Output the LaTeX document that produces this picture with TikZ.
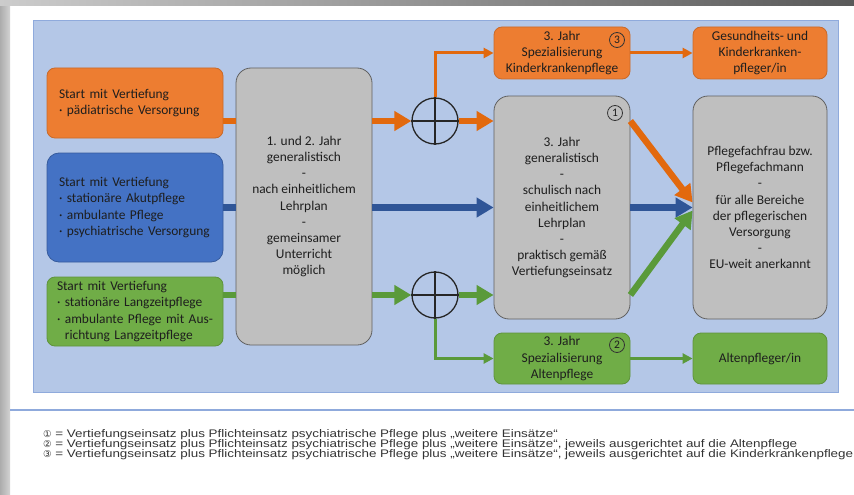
\documentclass[tikz,border=0pt]{standalone}
\usepackage{fontspec}
\setmainfont{Carlito}
\newfontfamily\notefont[FakeStretch=1.22]{Liberation Sans}
\newfontfamily\symfont{DejaVu Sans}
\usepackage{xcolor}
\usetikzlibrary{arrows.meta, positioning, calc}

\definecolor{panelfill}{HTML}{B4C7E7}
\definecolor{panelline}{HTML}{8FAADC}
\definecolor{orfill}{HTML}{ED7D31}
\definecolor{blfill}{HTML}{4472C4}
\definecolor{grfill}{HTML}{70AD47}
\definecolor{gyfill}{HTML}{BFBFBF}
\definecolor{orarrow}{HTML}{E2690E}
\definecolor{blarrow}{HTML}{2F5597}
\definecolor{grarrow}{HTML}{5A9A3A}
\definecolor{txt}{HTML}{1E1E1E}

\begin{document}
\begin{tikzpicture}[x=1pt, y=-1pt,
    every node/.style={text=txt, font=\fontsize{13.4}{16.1}\selectfont},
    box/.style={rounded corners=8pt, line width=0.8pt, inner sep=0pt, align=center},
    startbox/.style={box, align=left, inner xsep=12pt, text width=152pt},
    graybox/.style={box, rounded corners=15pt, fill=gyfill, draw=gray!75!black, minimum width=136pt},
    num/.style={circle, draw=black!80, line width=0.8pt, inner sep=0.6pt, minimum size=15pt, font=\fontsize{11.5}{11.5}\selectfont},
    xor/.style={circle, draw=black!85, line width=1.3pt, minimum size=46pt, inner sep=0pt},
    thick arrow/.style={line width=6.5pt, -{Triangle[length=17pt, width=19pt]}},
    thin arrow/.style={line width=3pt, -{Triangle[length=10pt, width=10pt]}}]
    \useasboundingbox (0,0) rectangle (854,495);
    % screen frame and page
    \shade[left color=gray!65, right color=gray!35] (0,0) rectangle (10,495);
    \shade[left color=gray!40, right color=gray!70!black] (0,0) rectangle (854,6);
    \fill[panelfill] (33,21) rectangle (838,392);
    \draw[panelline, line width=1pt] (33,21) rectangle (838,392);
    \draw[panelline, line width=1.5pt] (10,410) -- (854,410);

    \node[startbox, fill=orfill, draw=orfill!85!black, minimum height=70pt] (startO) at (135,103)
        {Start mit Vertiefung\\ · pädiatrische Versorgung};
    \node[startbox, fill=blfill, draw=blfill!80!black, rounded corners=12pt, minimum height=109pt] (startB) at (135,207.5)
        {Start mit Vertiefung\\ · stationäre Akutpflege\\ · ambulante Pflege\\ · psychiatrische Versorgung};
    \node[startbox, inner xsep=10pt, text width=156pt, fill=grfill, draw=grfill!85!black, minimum height=69pt] (startG) at (135,311.5)
        {Start mit Vertiefung\\ · stationäre Langzeitpflege\\ · ambulante Pflege mit Aus-\\ \hphantom{· }richtung Langzeitpflege};
    \node[graybox, minimum height=277pt] (gen1) at (304,206.5)
        {1. und 2. Jahr\\ generalistisch\\ -\\ nach einheitlichem\\ Lehrplan\\ -\\ gemeinsamer\\ Unterricht\\ möglich};
    \node[xor] (xor1) at (435,121) {};
    \node[xor] (xor2) at (435,295) {};
    \node[box, fill=orfill, draw=orfill!85!black, minimum width=136pt, minimum height=52pt] (spec3) at (562,53)
        {3. Jahr\\ Spezialisierung\\ Kinderkrankenpflege};
    \node[box, fill=orfill, draw=orfill!85!black, minimum width=134pt, minimum height=52pt] (gkp) at (760,53)
        {Gesundheits- und\\ Kinderkranken-\\ pfleger/in};
    \node[graybox, minimum height=223pt] (gen3) at (562,207.5)
        {3. Jahr\\ generalistisch\\ -\\ schulisch nach\\ einheitlichem\\ Lehrplan\\ -\\ praktisch gemäß\\ Vertiefungseinsatz};
    \node[graybox, minimum width=134pt, minimum height=223pt] (final) at (760,207.5)
        {Pflegefachfrau bzw.\\ Pflegefachmann\\ -\\ für alle Bereiche\\ der pflegerischen\\ Versorgung\\ -\\ EU-weit anerkannt};
    \node[box, fill=grfill, draw=grfill!85!black, minimum width=136pt, minimum height=51pt] (spec2) at (562,358.5)
        {3. Jahr\\ Spezialisierung\\ Altenpflege};
    \node[box, fill=grfill, draw=grfill!85!black, minimum width=134pt, minimum height=51pt] (altp) at (760,358.5)
        {Altenpfleger/in};
    \node[num] (n1) at (615,113) {1};
    \node[num] (n3) at (617,40) {3};
    \node[num] (n2) at (617,345) {2};

    \foreach \c in {xor1,xor2}
        \draw[black!85, line width=1.3pt] (\c.north) -- (\c.south) (\c.west) -- (\c.east);

    \draw[orarrow, line width=6.5pt] (startO.east |- xor1) -- (gen1.west |- xor1);
    \draw[orarrow, thick arrow] (gen1.east |- xor1) -- (xor1.west);
    \draw[orarrow, thick arrow] (xor1.east) -- (gen3.west |- xor1);
    \draw[orarrow, thin arrow] (xor1.north) |- (spec3.west);
    \draw[orarrow, thin arrow] (spec3.east) -- (gkp.west);

    \draw[blarrow, line width=6.5pt] (startB.east) -- (gen1.west |- startB.east);
    \draw[blarrow, thick arrow] (gen1.east |- startB.east) -- (gen3.west |- startB.east);

    \draw[grarrow, line width=6.5pt] (startG.east |- xor2) -- (gen1.west |- xor2);
    \draw[grarrow, thick arrow] (gen1.east |- xor2) -- (xor2.west);
    \draw[grarrow, thick arrow] (xor2.east) -- (gen3.west |- xor2);
    \draw[grarrow, thin arrow] (xor2.south) |- (spec2.west);
    \draw[grarrow, thin arrow] (spec2.east) -- (altp.west);

    \draw[orarrow, thick arrow] (gen3.east |- xor1) -- ($(final.west)+(0,-5)$);
    \draw[blarrow, thick arrow] (gen3.east |- final.west) -- (final.west);
    \draw[grarrow, thick arrow] (gen3.east |- xor2) -- ($(final.west)+(0,3)$);

    \node[anchor=north west, align=left, inner sep=0pt, text=black!80,
        font=\notefont\fontsize{11}{10.4}\selectfont] (notes) at (43,429)
        {{\symfont\fontsize{9.5}{9}\selectfont ①} = Vertiefungseinsatz plus Pflichteinsatz psychiatrische Pflege plus „weitere Einsätze“\\
         {\symfont\fontsize{9.5}{9}\selectfont ②} = Vertiefungseinsatz plus Pflichteinsatz psychiatrische Pflege plus „weitere Einsätze“, jeweils ausgerichtet auf die Altenpflege\\
         {\symfont\fontsize{9.5}{9}\selectfont ③} = Vertiefungseinsatz plus Pflichteinsatz psychiatrische Pflege plus „weitere Einsätze“, jeweils ausgerichtet auf die Kinderkrankenpflege};
\end{tikzpicture}
\end{document}
